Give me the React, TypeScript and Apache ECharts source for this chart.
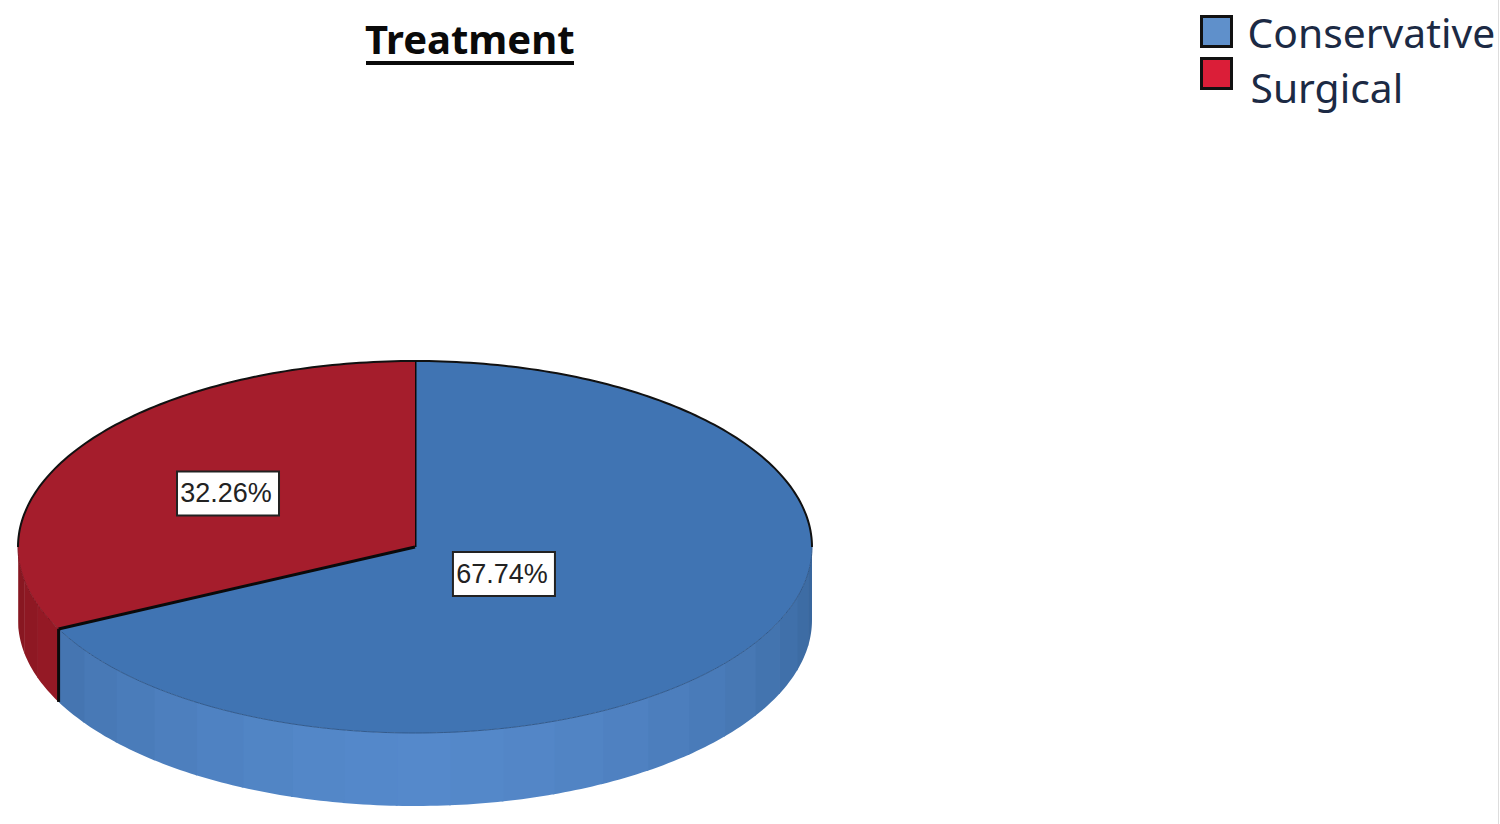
import React, { useEffect, useRef } from "react";
import * as echarts from "echarts";

const titleText = "Treatment";
const categories = ["Conservative", "Surgical"];
const percents = [67.74, 32.26];
const labels = ["67.74%", "32.26%"];
const labelRadii = [0.264, 0.555];
const topColors = ["#4074B3", "#A51D2C"];
const sideLight = ["#5589CB", "#B5202F"];
const sideDark = ["#37659B", "#82161F"];
const legendColors = ["#5F90CB", "#DB1E38"];

const CX = 415;
const CY = 547;
const RX = 397;
const RY = 186;
const DEPTH = 73;
const BAND = 7.7;
const BAND_OFFSET = 2.5;

const total = percents.reduce((a, b) => a + b, 0);
const startAngles = percents.map((_, i) => (percents.slice(0, i).reduce((a, b) => a + b, 0) / total) * 360);
const endAngles = percents.map((p, i) => startAngles[i] + (p / total) * 360);

const pt = (deg: number, r = 1, dy = 0): [number, number] => {
  const a = (deg * Math.PI) / 180;
  return [CX + RX * r * Math.sin(a), CY - RY * r * Math.cos(a) + dy];
};
const arcPts = (a: number, b: number, dy = 0) => {
  const out: [number, number][] = [];
  const n = Math.max(2, Math.ceil(Math.abs(b - a)));
  for (let i = 0; i <= n; i++) out.push(pt(a + ((b - a) * i) / n, 1, dy));
  return out;
};
const mix = (c1: string, c2: string, t: number) => {
  const p = (c: string, i: number) => parseInt(c.slice(i, i + 2), 16);
  const ch = [1, 3, 5].map((i) => Math.round(p(c1, i) + (p(c2, i) - p(c1, i)) * t));
  return `rgb(${ch[0]},${ch[1]},${ch[2]})`;
};

function renderSlice(index: number) {
  return () => {
    const s = startAngles[index];
    const e = endAngles[index];
    const children: any[] = [];
    // visible wall: front half of the disc, split into flat shaded facets
    const wallA = Math.max(s, 90);
    const wallB = Math.min(e, 270);
    if (wallB > wallA) {
      const edges: number[] = [wallA];
      for (let k = -30; k <= 30; k++) {
        const edge = 180 + BAND_OFFSET + k * BAND;
        if (edge > wallA && edge < wallB) edges.push(edge);
      }
      edges.push(wallB);
      edges.sort((x, y) => x - y);
      for (let i = 0; i < edges.length - 1; i++) {
        const a = edges[i];
        const b = edges[i + 1];
        const t = Math.pow(Math.abs((a + b) / 2 - 180) / 90, 1.5);
        const top = arcPts(a, b + 0.3);
        const bottom = arcPts(b + 0.3, a, DEPTH);
        children.push({
          type: "polygon",
          shape: { points: [...top, ...bottom] },
          style: { fill: mix(sideLight[index], sideDark[index], t), stroke: "none" },
        });
      }
    }
    // top face
    children.push({
      type: "polygon",
      shape: { points: [[CX, CY], ...arcPts(s, e)] },
      style: { fill: topColors[index], stroke: "none" },
    });
    // soft front rim
    if (wallB > wallA) {
      children.push({
        type: "polyline",
        shape: { points: arcPts(wallA, wallB) },
        style: { fill: "none", stroke: mix(topColors[index], "#000000", 0.22), lineWidth: 1 },
      });
    }
    // black back rim
    const backRanges = [[Math.max(s, 0), Math.min(e, 90)], [Math.max(s, 270), Math.min(e, 360)]];
    for (const [a, b] of backRanges) {
      if (b > a) {
        children.push({
          type: "polyline",
          shape: { points: arcPts(a, b) },
          style: { fill: "none", stroke: "#111111", lineWidth: 2 },
        });
      }
    }
    // radial edge and wall seam
    children.push({
      type: "line",
      shape: { x1: CX, y1: CY, x2: pt(s)[0], y2: pt(s)[1] },
      style: { stroke: "#0A0A0A", lineWidth: 3 },
    });
    if (s > 90 && s < 270) {
      children.push({
        type: "line",
        shape: { x1: pt(s)[0], y1: pt(s)[1], x2: pt(s)[0], y2: pt(s)[1] + DEPTH },
        style: { stroke: "#0A0A0A", lineWidth: 3 },
      });
    }
    // value label
    const mid = (s + e) / 2;
    const [lx, ly] = pt(mid, labelRadii[index]);
    children.push({
      type: "rect",
      z2: 10,
      shape: { x: lx - 51, y: ly - 21, width: 102, height: 44 },
      style: { fill: "#FFFFFF", stroke: "#222222", lineWidth: 2 },
    });
    children.push({
      type: "text",
      z2: 11,
      x: lx - 2,
      y: ly + 1,
      style: {
        text: labels[index],
        fill: "#222222",
        font: '27px "Liberation Sans", Arial, sans-serif',
        align: "center",
        verticalAlign: "middle",
      },
    });
    return { type: "group", children };
  };
}

const legendBase = {
  orient: "vertical",
  itemWidth: 30,
  itemHeight: 30,
  padding: 0,
  selectedMode: false,
  itemStyle: { borderColor: "#111111", borderWidth: 3 },
};
const legendText = {
  color: "#1C2A44",
  fontFamily: '"Noto Sans", sans-serif',
  fontSize: 40.8,
  lineHeight: 30,
};

export default function App() {
  const ref = useRef<HTMLDivElement>(null);
  useEffect(() => {
    const chart = echarts.init(ref.current!, null, { renderer: "svg" });
    chart.setOption({
      animation: false,
      backgroundColor: "#FFFFFF",
      title: {
        text: titleText,
        left: 360,
        top: 13,
        textStyle: {
          color: "#0A0A0A",
          fontFamily: '"Noto Sans", sans-serif',
          fontWeight: "bold",
          fontSize: 40,
        },
      },
      legend: [
        {
          ...legendBase,
          data: [{ name: categories[0], icon: "rect" }],
          left: 1200,
          top: 11,
          textStyle: { ...legendText, padding: [0, 0, 0, 11] },
        },
        {
          ...legendBase,
          data: [{ name: categories[1], icon: "rect" }],
          left: 1200,
          top: 40,
          formatter: (name: string) => `\n${name}`,
          textStyle: { ...legendText, lineHeight: 26, padding: [0, 0, 0, 14] },
        },
      ],
      graphic: [
        { type: "rect", shape: { x: 366, y: 61, width: 208, height: 4 }, style: { fill: "#0A0A0A" } },
        { type: "line", shape: { x1: 1498.5, y1: 0, x2: 1498.5, y2: 824 }, style: { stroke: "#DDDDDD", lineWidth: 1 } },
      ],
      series: categories.map((name, i) => ({
        type: "custom",
        name,
        coordinateSystem: "none",
        silent: true,
        itemStyle: { color: legendColors[i] },
        data: [percents[i]],
        renderItem: renderSlice(i),
      })),
    });
    return () => chart.dispose();
  }, []);
  return <div ref={ref} style={{ position: "absolute", left: 0, top: 0, width: 1500, height: 824 }} />;
}
